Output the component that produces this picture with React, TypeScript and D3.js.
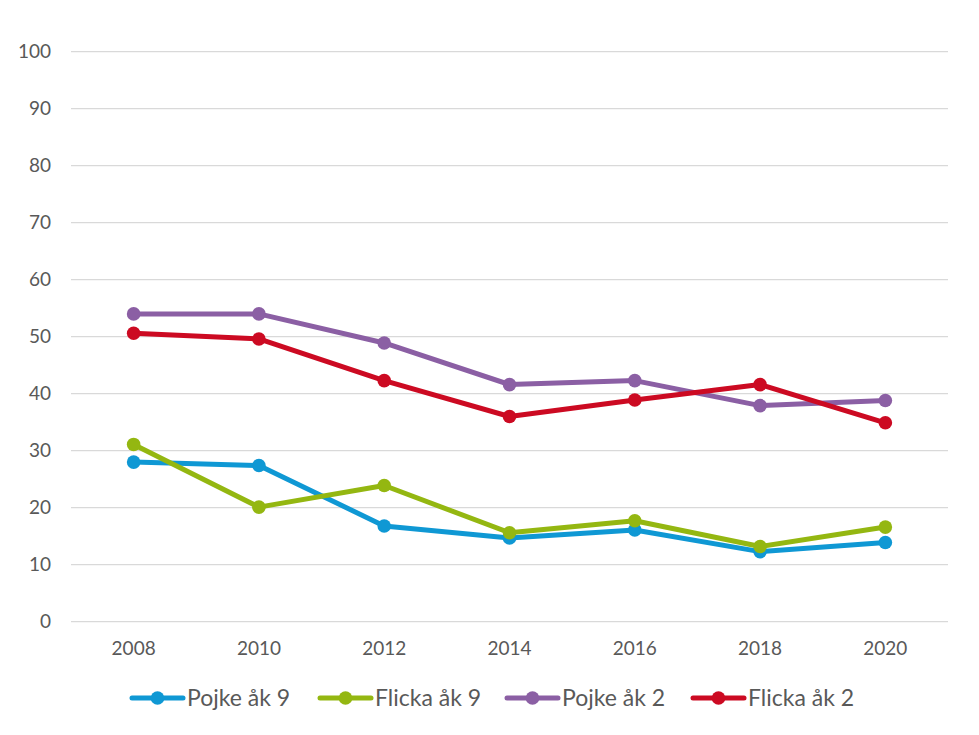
import React, { useEffect, useRef } from 'react';
import * as d3 from 'd3';

const years = [2008, 2010, 2012, 2014, 2016, 2018, 2020];
const yTicks = [0, 10, 20, 30, 40, 50, 60, 70, 80, 90, 100];

const pojkeAk9 = [28.0, 27.4, 16.8, 14.7, 16.1, 12.3, 13.9];
const flickaAk9 = [31.1, 20.1, 23.9, 15.6, 17.7, 13.2, 16.6];
const pojkeAk2 = [54.0, 54.0, 48.9, 41.6, 42.3, 37.9, 38.8];
const flickaAk2 = [50.6, 49.6, 42.3, 36.0, 38.9, 41.6, 34.9];

const seriesNames = ['Pojke åk 9', 'Flicka åk 9', 'Pojke åk 2', 'Flicka åk 2'];
const seriesColors = ['#0f98d4', '#94b711', '#8b5fa4', '#cc0a22'];

const W = 979;
const H = 735;

const App: React.FC = () => {
  const svgRef = useRef<SVGSVGElement>(null);

  useEffect(() => {
    if (!svgRef.current) return;
    const svg = d3.select(svgRef.current);
    svg.selectAll('*').remove();

    const font = 'Lato, "Open Sans", sans-serif';
    const textColor = '#595959';
    const left = 71;
    const right = 948;

    const x = d3.scalePoint<number>()
      .domain(years)
      .range([left, right])
      .padding(0.5);

    const y = d3.scaleLinear()
      .domain([0, 100])
      .range([621.7, 51.7]);

    // Gridlines
    svg.append('g')
      .selectAll('line')
      .data(yTicks)
      .enter().append('line')
      .attr('x1', left)
      .attr('x2', right)
      .attr('y1', d => y(d))
      .attr('y2', d => y(d))
      .attr('stroke', '#d9d9d9')
      .attr('stroke-width', 1.3);

    // Y tick labels
    svg.append('g')
      .selectAll('text')
      .data(yTicks)
      .enter().append('text')
      .attr('x', 51)
      .attr('y', d => y(d))
      .attr('dy', '0.35em')
      .attr('text-anchor', 'end')
      .style('font-family', font)
      .style('font-size', '19px')
      .style('fill', textColor)
      .text(d => d);

    // X tick labels
    svg.append('g')
      .selectAll('text')
      .data(years)
      .enter().append('text')
      .attr('x', d => x(d) || 0)
      .attr('y', 655)
      .attr('text-anchor', 'middle')
      .style('font-family', font)
      .style('font-size', '19px')
      .style('fill', textColor)
      .text(d => d);

    const allSeries = [pojkeAk9, flickaAk9, pojkeAk2, flickaAk2];

    const line = d3.line<number>()
      .x((_, i) => x(years[i]) || 0)
      .y(d => y(d));

    allSeries.forEach((values, si) => {
      const g = svg.append('g');
      g.append('path')
        .datum(values)
        .attr('d', line)
        .attr('fill', 'none')
        .attr('stroke', seriesColors[si])
        .attr('stroke-width', 5)
        .attr('stroke-linejoin', 'round');
      g.selectAll('circle')
        .data(values)
        .enter().append('circle')
        .attr('cx', (_, i) => x(years[i]) || 0)
        .attr('cy', d => y(d))
        .attr('r', 6.8)
        .attr('fill', seriesColors[si]);
    });

    // Legend
    const legendX = [132, 320, 507, 693];
    const legendY = 698;
    seriesNames.forEach((name, i) => {
      const lg = svg.append('g').attr('transform', `translate(${legendX[i]},${legendY})`);
      lg.append('line')
        .attr('x1', 0)
        .attr('x2', 51)
        .attr('y1', 0)
        .attr('y2', 0)
        .attr('stroke', seriesColors[i])
        .attr('stroke-width', 5)
        .attr('stroke-linecap', 'round');
      lg.append('circle')
        .attr('cx', 25.5)
        .attr('cy', 0)
        .attr('r', 6.8)
        .attr('fill', seriesColors[i]);
      lg.append('text')
        .attr('x', 55)
        .attr('y', 0)
        .attr('dy', '0.35em')
        .style('font-family', font)
        .style('font-size', '23px')
        .style('fill', textColor)
        .text(name);
    });
  }, []);

  return (
    <div style={{ position: 'absolute', left: 0, top: 0, background: 'white' }}>
      <svg ref={svgRef} width={W} height={H} style={{ display: 'block' }}></svg>
    </div>
  );
};

export default App;
